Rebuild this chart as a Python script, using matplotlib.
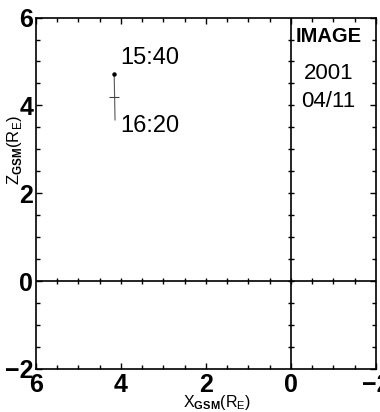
"""IMAGE 2001/04/11 footpoint track in the GSM X-Z plane."""

import matplotlib

matplotlib.use("Agg")
import matplotlib.pyplot as plt
import numpy as np
from matplotlib.ticker import MultipleLocator

FONT = ["Liberation Sans", "DejaVu Sans"]

# track of the spacecraft (X_GSM, Z_GSM) from 15:40 to 16:20
track_x = [4.16, 4.14]
track_z = [4.71, 3.67]
# intermediate time mark
mark_x = [4.16]
mark_z = [4.20]
time_labels = ["15:40", "16:20"]
time_label_x = [4.02, 4.02]
time_label_z = [5.07, 3.52]

x_limits = (6, -2)
z_limits = (-2, 6)
major_ticks = [6, 4, 2, 0, -2]
minor_step = 0.5

plt.rcParams.update({"font.family": FONT, "mathtext.fontset": "custom",
                     "mathtext.rm": "Liberation Sans", "mathtext.bf": "Liberation Sans:bold"})

fig = plt.figure(figsize=(3.8, 4.12), dpi=100)
ax = fig.add_axes([0.0947, 0.1044, 0.8947, 0.853])
ax.set_xlim(*x_limits)
ax.set_ylim(*z_limits)

for spine in ax.spines.values():
    spine.set_linewidth(1.2)

ax.xaxis.set_minor_locator(MultipleLocator(minor_step))
ax.yaxis.set_minor_locator(MultipleLocator(minor_step))
ax.tick_params(which="both", direction="in", top=True, right=True, width=1.0)
ax.tick_params(which="major", length=4.5, labelsize=18)
ax.tick_params(which="minor", length=3)
ax.tick_params(axis="x", pad=3)
ax.tick_params(axis="y", pad=2)
ax.set_xticks(major_ticks)
ax.set_yticks(major_ticks)
tick_text = [f"{t:d}".replace("-", "\u2212") for t in major_ticks]
ax.set_xticklabels(tick_text, fontweight="bold")
ax.set_yticklabels(tick_text, fontweight="bold")

# zero lines with small crossing ticks
ax.axhline(0, color="black", lw=1.2, zorder=2)
ax.axvline(0, color="black", lw=1.2, zorder=2)
steps_x = np.arange(x_limits[1] + minor_step, x_limits[0], minor_step)
steps_z = np.arange(z_limits[0] + minor_step, z_limits[1], minor_step)
ax.plot(steps_x, np.zeros_like(steps_x), ls="none", marker="|", ms=4.5, mew=1.0, color="black")
ax.plot(np.zeros_like(steps_z), steps_z, ls="none", marker="_", ms=4.5, mew=1.0, color="black")

# spacecraft track
ax.plot(track_x, track_z, color="#555555", lw=0.8)
ax.plot(track_x[:1], track_z[:1], ls="none", marker="o", ms=2.2, color="black")
ax.plot(mark_x, mark_z, ls="none", marker="_", ms=7, mew=0.8, color="#444444")
for label, tx, tz in zip(time_labels, time_label_x, time_label_z):
    ax.text(tx, tz, label, fontsize=17, ha="left", va="center")

ax.text(0.86, 0.945, "IMAGE", transform=ax.transAxes, fontsize=14.5, fontweight="bold",
        ha="center", va="center")
ax.text(0.86, 0.84, "2001", transform=ax.transAxes, fontsize=16, ha="center", va="center")
ax.text(0.86, 0.76, "04/11", transform=ax.transAxes, fontsize=16, ha="center", va="center")

fig.text(0.037, 0.635, r"Z$_{\mathbf{GSM}}$(R$_{\mathregular{E}}$)", rotation=90,
         fontsize=12, ha="center", va="center")
fig.text(0.57, 0.024, r"X$_{\mathbf{GSM}}$(R$_{\mathregular{E}}$)",
         fontsize=11.5, ha="center", va="center")

fig.savefig("out.png", dpi=100)
